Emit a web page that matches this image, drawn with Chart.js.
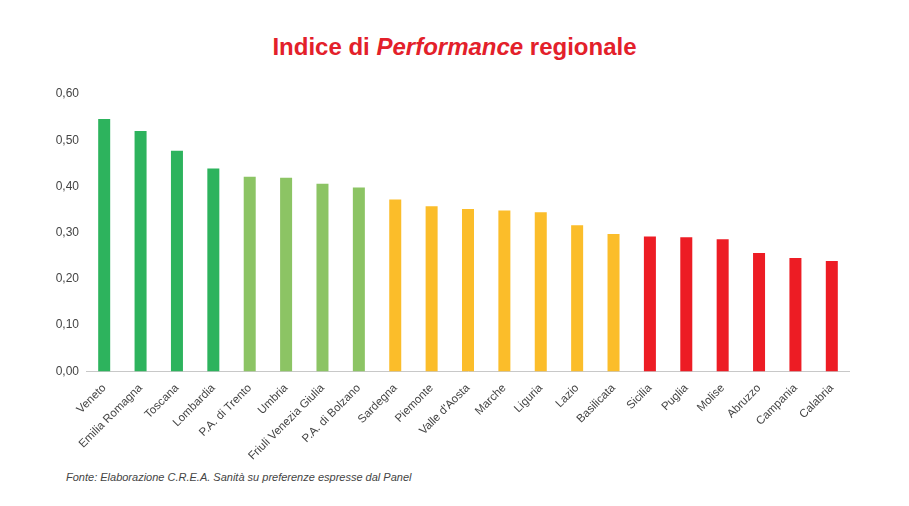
<!DOCTYPE html>
<html>
<head>
<meta charset="utf-8">
<script src="https://cdn.jsdelivr.net/npm/chart.js@4"></script>
<style>
  body { margin: 0; width: 909px; height: 506px; background: #fff; font-family: "Liberation Sans", Arial, sans-serif; position: relative; overflow: hidden; }
  #title { position: absolute; top: 33px; left: 0; width: 909px; text-align: center; color: #e3202a; font-size: 24px; font-weight: bold; }
  #chartBox { position: absolute; left: 34px; top: 78px; width: 816px; height: 387px; }
  #fonte { position: absolute; left: 66px; top: 471px; font-size: 11px; font-style: italic; color: #444; }
</style>
</head>
<body>
<div id="title">Indice di <i>Performance</i> regionale</div>
<div id="chartBox"><canvas id="perfChart"></canvas></div>
<div id="fonte">Fonte: Elaborazione C.R.E.A. Sanità su preferenze espresse dal Panel</div>
<script>
// Regioni e valori dell'indice
const regioni = ["Veneto", "Emilia Romagna", "Toscana", "Lombardia", "P.A. di Trento", "Umbria",
  "Friuli Venezia Giulia", "P.A. di Bolzano", "Sardegna", "Piemonte", "Valle d'Aosta", "Marche",
  "Liguria", "Lazio", "Basilicata", "Sicilia", "Puglia", "Molise", "Abruzzo", "Campania", "Calabria"];
const valori = [0.546, 0.520, 0.477, 0.439, 0.421, 0.419, 0.406, 0.398, 0.372, 0.357, 0.351,
  0.348, 0.344, 0.316, 0.297, 0.292, 0.290, 0.286, 0.256, 0.245, 0.239];
// gruppo di colore per ogni regione: 0=verde scuro, 1=verde chiaro, 2=giallo, 3=rosso
const gruppi = [0, 0, 0, 0, 1, 1, 1, 1, 2, 2, 2, 2, 2, 2, 2, 3, 3, 3, 3, 3, 3];
const yTicks = [0, 0.1, 0.2, 0.3, 0.4, 0.5, 0.6];

const coloriGruppo = ["#2db35d", "#8cc464", "#fbbd2a", "#ed1c24"];

const ctx = document.getElementById("perfChart").getContext("2d");
new Chart(ctx, {
  type: "bar",
  data: {
    labels: regioni,
    datasets: [{
      data: valori,
      backgroundColor: gruppi.map(g => coloriGruppo[g]),
      barPercentage: 0.66,
      categoryPercentage: 0.5,
    }],
  },
  options: {
    responsive: true,
    maintainAspectRatio: false,
    animation: false,
    layout: { padding: { left: 4, right: 0, top: 16, bottom: 0 } },
    plugins: {
      legend: { display: false },
      tooltip: { enabled: false },
    },
    scales: {
      y: {
        min: 0,
        max: 0.6,
        afterBuildTicks: (axis) => { axis.ticks = yTicks.map(v => ({ value: v })); },
        afterFit: (axis) => { axis.width = 48; },
        grid: { display: false },
        border: { display: false },
        ticks: {
          padding: -1,
          color: "#444",
          font: { family: "Liberation Sans", size: 12 },
          callback: (v) => v.toFixed(2).replace(".", ","),
        },
      },
      x: {
        grid: { display: false },
        border: { display: true, color: "#c8c8c8", width: 1 },
        ticks: {
          minRotation: 45,
          maxRotation: 45,
          padding: 2,
          color: "#444",
          font: { family: "Liberation Sans", size: 11.5 },
        },
      },
    },
  },
});
</script>
</body>
</html>
